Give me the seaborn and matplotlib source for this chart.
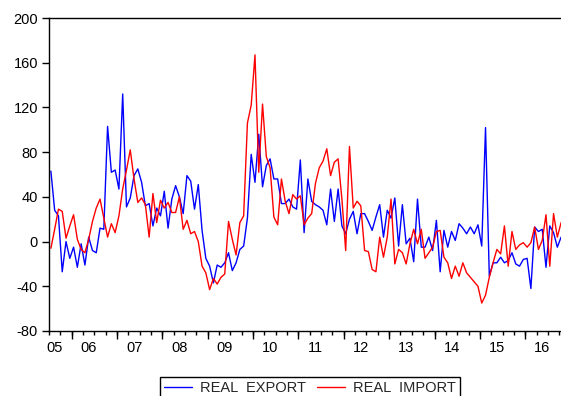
import matplotlib
matplotlib.use('Agg')
import numpy as np
import pandas as pd
import matplotlib.pyplot as plt
import seaborn as sns
from matplotlib.ticker import FixedLocator

# monthly series, 2005M07 .. 2016M10
start = '2005-07-01'
real_export = [63, 28, 23, -27, 0, -15, -5, -23, -2, -21, 4, -8,
               -10, 12, 11, 103, 62, 64, 47, 132, 31, 39, 59, 65,
               53, 32, 34, 14, 30, 23, 45, 12, 38, 50, 40, 25,
               59, 54, 29, 51, 10, -15, -22, -37, -21, -23, -19, -10,
               -26, -19, -7, -4, 21, 78, 53, 96, 49, 68, 74, 56,
               56, 34, 34, 38, 31, 29, 73, 8, 56, 36, 33, 31,
               28, 15, 47, 18, 47, 14, 7, 20, 27, 7, 25, 25,
               18, 10, 22, 33, 4, 28, 21, 39, -4, 33, -2, 3,
               -18, 38, -5, -5, 4, -8, 19, -27, 10, -5, 9, 1,
               16, 12, 7, 13, 7, 15, -4, 102, -31, -19, -19, -14,
               -19, -17, -10, -20, -22, -16, -15, -42, 13, 9, 11, -23,
               14, 8, -5, 4]
real_import = [-6, 11, 29, 27, 3, 14, 24, 2, -7, -10, 2, 18,
               30, 38, 21, 4, 16, 8, 23, 47, 64, 82, 56, 35,
               39, 33, 4, 43, 17, 37, 30, 35, 26, 26, 40, 11,
               19, 7, 9, 0, -22, -28, -43, -33, -38, -32, -29, 18,
               2, -12, 17, 23, 106, 122, 167, 62, 123, 76, 66, 22,
               15, 56, 36, 25, 42, 38, 41, 15, 21, 25, 52, 66,
               72, 83, 59, 71, 74, 38, -8, 85, 30, 36, 32, -8,
               -9, -25, -27, 4, -14, 4, 38, -20, -7, -10, -20, -2,
               11, -2, 11, -15, -10, -5, 9, 10, -14, -19, -33, -22,
               -31, -19, -28, -32, -36, -40, -55, -48, -32, -19, -7, -11,
               14, -22, 9, -7, -3, -1, -5, -1, 13, -7, 1, 24,
               -22, 25, 4, 17]
years = list(range(2006, 2017))
year_labels = ['05', '06', '07', '08', '09', '10', '11', '12', '13', '14', '15', '16']
label_pos = [2005.62] + [y + 0.38 for y in years]
y_ticks = [-80, -40, 0, 40, 80, 120, 160, 200]

sns.set_style('ticks')
plt.rcParams['font.family'] = ['Liberation Sans', 'DejaVu Sans']
plt.rcParams['axes.unicode_minus'] = False

df = pd.DataFrame({'date': pd.date_range(start, periods=len(real_export), freq='MS'),
                   'export': real_export, 'import': real_import})
df['t'] = df['date'].dt.year + (df['date'].dt.month - 0.5) / 12

fig = plt.figure(figsize=(5.61, 3.96), dpi=100)
ax = fig.add_axes([49 / 561, 1 - 331 / 396, (563 - 49) / 561, 313 / 396])

sns.lineplot(data=df, x='t', y='export', color='#0000FF', lw=1.0, label='REAL  EXPORT', ax=ax)
sns.lineplot(data=df, x='t', y='import', color='#FF0000', lw=1.0, label='REAL  IMPORT', ax=ax)

ax.set_xlim(2005.5, 2016 + 10 / 12)
ax.set_ylim(-80, 200)
ax.set_yticks(y_ticks)
ax.set_xlabel('')
ax.set_ylabel('')

# year labels in the middle of each year, quarter ticks below
ax.set_xticks(label_pos, labels=year_labels)
ax.xaxis.set_minor_locator(FixedLocator([y + q / 4 for y in range(2005, 2017) for q in range(4)]))
ax.tick_params(axis='x', which='major', length=0, pad=7, labelsize=10.5, colors='black')
ax.tick_params(axis='x', which='minor', length=3, width=1, color='black')
ax.tick_params(axis='y', length=5, width=1, pad=3, labelsize=10.5, colors='black')

sec = ax.secondary_xaxis('bottom')
sec.set_xticks(years)
sec.tick_params(length=6, width=1, labelbottom=False, color='black')
sec.spines['bottom'].set_visible(False)

for s in ['left', 'top', 'bottom']:
    ax.spines[s].set_color('black')
    ax.spines[s].set_linewidth(1)
ax.spines['right'].set_visible(False)

leg = ax.legend(loc='upper center', bbox_to_anchor=(310 / 561, 1 - 377 / 396),
                bbox_transform=fig.transFigure, ncol=2, fontsize=10.5,
                fancybox=False, framealpha=1, edgecolor='black', borderaxespad=0,
                handlelength=1.9, handletextpad=0.55, columnspacing=0.8, borderpad=0.3)
leg.get_frame().set_linewidth(1)

fig.savefig('out.png', dpi=100)
